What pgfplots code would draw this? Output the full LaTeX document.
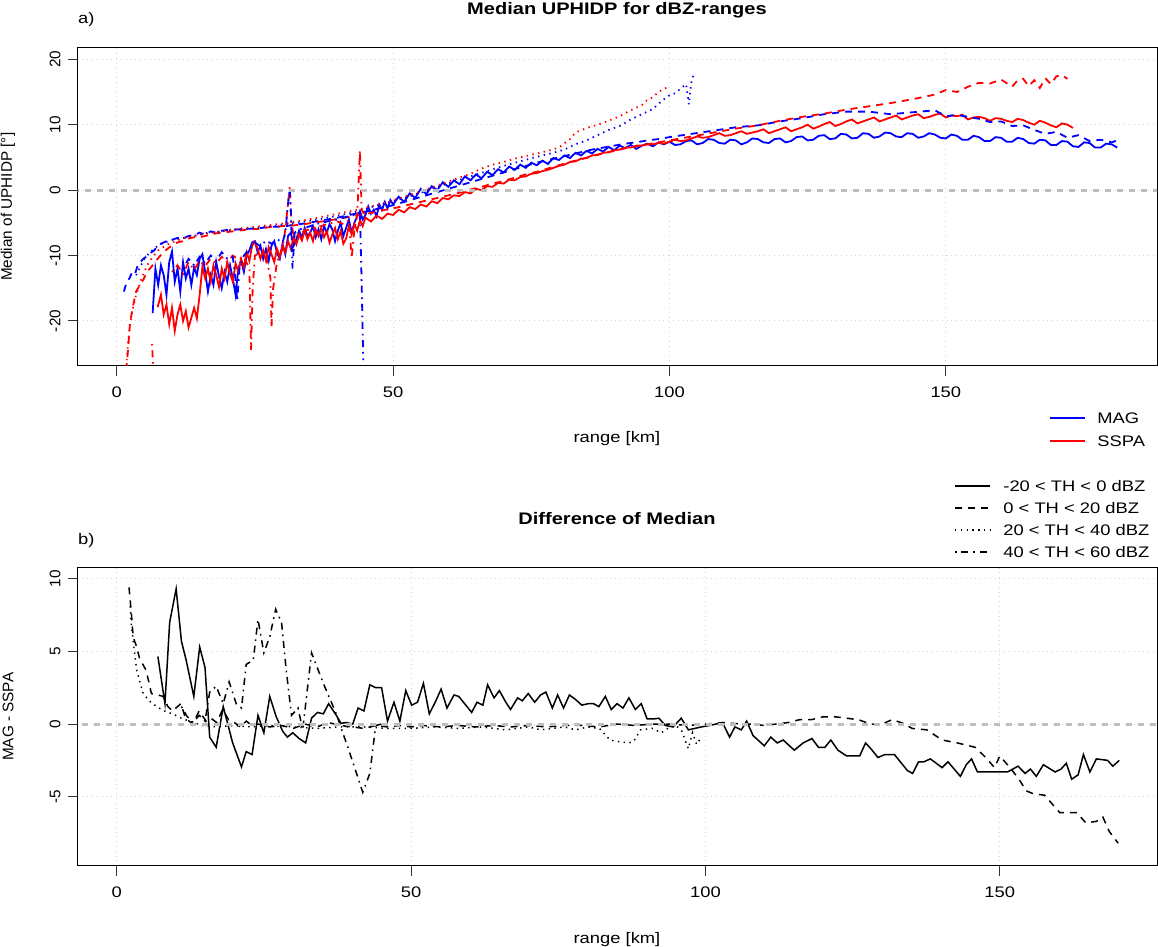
\documentclass[border=0pt]{standalone}
\usepackage{fontspec}
\setmainfont{Liberation Sans}[FakeStretch=1.2]
\newfontfamily\rotfont{Liberation Sans}
\usepackage{pgfplots}
\pgfplotsset{compat=1.18}
\definecolor{lgray}{RGB}{211,211,211}
\definecolor{zgray}{RGB}{190,190,190}
\tikzset{
  l1/.style={line width=0.9pt},
  l2/.style={line width=0.9pt, dash pattern=on 3.5pt off 3pt},
  l3/.style={line width=0.9pt, dash pattern=on 0.7pt off 2.2pt},
  l4/.style={line width=0.9pt, dash pattern=on 0.8pt off 2.4pt on 3.5pt off 2.4pt},
  b1/.style={black, line width=0.75pt},
  b2/.style={black, line width=0.75pt, dash pattern=on 3.5pt off 3pt},
  b3/.style={black, line width=0.75pt, dash pattern=on 0.7pt off 2.2pt},
  b4/.style={black, line width=0.75pt, dash pattern=on 0.8pt off 2.4pt on 3.5pt off 2.4pt},
  zl/.style={zgray, line width=1.5pt, dash pattern=on 3pt off 3pt},
}
\pgfplotsset{
  rax/.style={
    scale only axis, width=539.65pt,
    axis line style={black, line width=0.5pt},
    tick align=outside, major tick length=5pt,
    tick style={black!80, line width=0.5pt},
    xtick pos=lower, ytick pos=left,
    grid=major, grid style={dotted, lgray, line width=0.5pt},
    xtick={0,50,100,150},
    /pgf/number format/assume math mode=true,
    ticklabel style={font=\fontsize{7.65}{9}\selectfont},
    yticklabel style={rotate=90, anchor=south, font=\rotfont\fontsize{7.65}{9}\selectfont},
    xticklabel style={yshift=-2pt},
    clip=true,
  },
}
\begin{document}
\begin{tikzpicture}[x=1pt,y=1pt]
\useasboundingbox (0,0) rectangle (579,473.5);
% ---------------- top panel ----------------
\begin{axis}[rax, at={(38.85pt,290.5pt)}, anchor=south west, height=159.15pt,
  xmin=-7.06, xmax=188.2, ymin=-26.88, ymax=21.77, ytick={-20,-10,0,10,20}]
% MAG solid
\addplot[blue, l1] coordinates {(6.5,-18.8)(7,-12)(7.5,-14.5)(8,-11.5)(8.5,-13)(9,-16)(9.5,-11)(10,-9.4)(10.5,-14)(11,-12)(11.5,-15.5)(12,-11)(12.5,-13.5)(13,-12)(13.5,-14.5)(14,-11.8)(14.5,-13)(15,-10.5)(15.5,-9.8)(16,-12.5)(16.5,-15.5)(17,-13)(17.5,-14.5)(18,-11)(18.5,-13.2)(19,-15)(19.5,-12.5)(20,-14)(20.5,-11.5)(21,-13.5)(21.5,-16)(22,-12)(22.5,-10.8)(23,-12.5)(23.5,-10)(24,-9.2)(24.5,-8)(25,-7.8)(25.5,-9.5)(26,-8.5)(26.5,-10.5)(27,-9)(27.5,-10.8)(28,-8.5)(28.5,-7.8)(29,-9.6)(29.5,-10.5)(30,-8.2)(30.5,-9.8)(31,-7)(31.5,-6.5)(32,-8.5)(32.5,-7.5)(33,-6.2)(33.5,-7.3)(34,-5.8)(34.5,-7)(35,-6.5)(35.5,-5.5)(36,-7.2)(36.5,-6)(37,-7.5)(37.5,-5.5)(38,-6.5)(38.5,-5.2)(39,-6)(39.5,-7.8)(40,-6.2)(40.5,-5)(41,-7)(41.5,-5.8)(42,-4.5)(42.5,-6.5)(43,-5)(43.5,-4)(44,-3.2)(44.5,-4.5)(45,-3.8)(45.5,-2.5)(46,-3.6)(46.5,-3)(47,-4)(47.5,-2.2)(48,-3)(48.5,-1.8)(49,-2.8)(49.5,-1.5)(50,-2.2)(51,-1)(52,-1.8)(53,-0.5)(54,-1.2)(55,0.2)(56,-0.6)(57,0.6)(58,0)(59,1.2)(60,0.5)(61,1.5)(62,0.9)(63,2.1)(64,1.5)(65,2.4)(66,1.8)(67,2.8)(68,2.3)(69,3.2)(70,2.7)(71,3.6)(72,3.1)(73,3.9)(74,3.4)(75,4.2)(76,3.8)(77,4.5)(78,4.0)(79,4.9)(80,4.6)(81,5.3)(82,4.9)(83,5.7)(84,5.3)(85,6.0)(86,5.6)(87,6.3)(88,5.9)(89,6.6)(90,6.1)(91,6.8)(92,6.4)(93,6.9)(94,6.3)(95,6.8)(96,7.1)(97,6.7)(98,7.3)(99,7.0)(100,7.4)(101,6.9)(102,7.0)(103,7.5)(104,7.6)(105,7.0)(106,7.2)(107,7.8)(108,7.7)(109,7.2)(110,7.1)(111,7.7)(112,7.6)(113,7.0)(114,7.3)(115,7.9)(116,7.8)(117,7.3)(118,7.2)(119,7.8)(120,7.9)(121,7.3)(122,7.5)(123,8.1)(124,8.2)(125,7.6)(126,7.7)(127,8.3)(128,8.4)(129,7.8)(130,7.9)(131,8.6)(132,8.5)(133,7.9)(134,8.0)(135,8.7)(136,8.6)(137,8.0)(138,8.2)(139,8.8)(140,8.7)(141,8.2)(142,8.1)(143,8.7)(144,8.6)(145,8.0)(146,8.2)(147,8.7)(148,8.5)(149,8.0)(150,7.9)(151,8.5)(152,8.3)(153,7.7)(154,7.7)(155,8.3)(156,8.1)(157,7.5)(158,7.5)(159,8.1)(160,8.0)(161,7.4)(162,7.4)(163,8.0)(164,7.8)(165,7.2)(166,7.1)(167,7.7)(168,7.6)(169,6.9)(170,6.9)(171,7.5)(172,7.4)(173,6.7)(174,6.6)(175,7.3)(176,7.2)(177,6.5)(178,6.5)(179,7.1)(180,7.0)(181,6.5)};
% SSPA solid
\addplot[red, l1] coordinates {(7.4,-17.9)(8,-16)(8.5,-19)(9,-17.5)(9.5,-20.5)(10,-18)(10.5,-21.5)(11,-19)(11.5,-17.5)(12,-20)(12.5,-18.5)(13,-21)(13.5,-19.5)(14,-18)(14.5,-19.6)(15,-16)(15.5,-11.7)(16,-13.5)(16.5,-12)(17,-14)(17.5,-11.5)(18,-13)(18.5,-14.8)(19,-12)(19.5,-13.5)(20,-11)(20.5,-12.8)(21,-14)(21.5,-11.2)(22,-12.5)(22.5,-10.5)(23,-11.8)(23.5,-9.5)(24,-10.8)(24.5,-8.5)(25,-7.9)(25.5,-9)(26,-10.5)(26.5,-9.2)(27,-10.8)(27.5,-8.7)(28,-9.8)(28.5,-11)(29,-9)(29.5,-10.2)(30,-8.5)(30.5,-9.5)(31,-7.8)(31.5,-9)(32,-7.2)(32.5,-8.3)(33,-6.8)(33.5,-7.7)(34,-6.2)(34.5,-7.5)(35,-6.5)(35.5,-7.8)(36,-6)(36.5,-7)(37,-5.8)(37.5,-7.2)(38,-6.3)(38.5,-8)(39,-6.8)(39.5,-5.8)(40,-7.5)(40.5,-6.3)(41,-8.2)(41.5,-7.4)(42,-5.5)(42.5,-6.8)(43,-5.2)(43.5,-6.2)(44,-4.6)(44.5,-5.5)(45,-4.2)(46,-4.8)(47,-3.9)(48,-4.4)(49,-3.6)(50,-3.8)(51,-3.0)(52,-3.4)(53,-2.6)(54,-2.9)(55,-2.2)(56,-2.5)(57,-1.7)(58,-2.0)(59,-1.2)(60,-1.4)(61,-0.8)(62,-0.9)(63,-0.3)(64,-0.5)(65,0.2)(66,0.0)(67,0.6)(68,0.5)(69,1.1)(70,1.0)(71,1.6)(72,1.5)(73,2.0)(74,2.1)(75,2.5)(76,2.6)(77,2.9)(78,3.1)(79,3.4)(80,3.7)(81,3.9)(82,4.3)(83,4.4)(84,4.8)(85,4.9)(86,5.3)(87,5.4)(88,5.7)(89,5.8)(90,6.1)(91,6.2)(92,6.5)(93,6.5)(94,6.8)(95,6.8)(96,7.0)(97,7.0)(98,7.2)(99,7.1)(100,7.4)(101,7.7)(102,7.5)(103,7.6)(104,7.9)(105,8.2)(106,8.0)(107,8.1)(108,8.4)(109,8.7)(110,8.3)(111,8.4)(112,8.7)(113,9.0)(114,8.6)(115,8.8)(116,9.0)(117,9.3)(118,8.7)(119,9.0)(120,9.3)(121,9.6)(122,9.0)(123,9.3)(124,9.6)(125,10.0)(126,9.4)(127,9.7)(128,10.1)(129,10.4)(130,9.8)(131,10.1)(132,10.5)(133,10.8)(134,10.2)(135,10.5)(136,10.8)(137,11.1)(138,10.5)(139,10.8)(140,11.1)(141,11.4)(142,10.8)(143,11.1)(144,11.4)(145,11.6)(146,11.0)(147,11.2)(148,11.5)(149,11.7)(150,11.1)(151,11.4)(152,11.3)(153,11.5)(154,10.8)(155,11.1)(156,11.2)(157,11.0)(158,10.6)(159,11.0)(160,10.9)(161,10.6)(162,10.4)(163,10.9)(164,10.7)(165,10.3)(166,10.0)(167,10.6)(168,10.3)(169,9.9)(170,9.6)(171,10.2)(172,10.0)(173,9.5)};
% MAG dashed
\addplot[blue, l2] coordinates {(1.3,-15.5)(1.8,-14)(2.3,-13.5)(2.8,-12.5)(3.3,-12.8)(3.8,-11.5)(4.3,-11)(4.8,-10.5)(5.3,-10.2)(5.8,-9.8)(6.3,-9.5)(6.8,-9.2)(7.3,-8.6)(8,-8.2)(9,-7.8)(10,-7.6)(11,-7.3)(12,-7.4)(13,-7.0)(14,-6.9)(15,-6.5)(16,-6.8)(17,-6.3)(18,-6.5)(19,-6.2)(20,-6.1)(22,-6.0)(24,-5.9)(26,-5.8)(28,-5.6)(30,-5.6)(32,-5.3)(34,-5.1)(36,-4.8)(38,-4.5)(40,-4.2)(42,-3.8)(44,-3.5)(46,-3.1)(48,-2.7)(50,-2.3)(52,-1.8)(54,-1.3)(56,-0.8)(58,-0.3)(60,0.2)(62,0.7)(64,1.2)(66,1.7)(68,2.2)(70,2.7)(72,3.2)(74,3.7)(76,4.2)(78,4.6)(80,5.0)(82,5.4)(84,5.8)(86,6.2)(88,6.5)(90,6.8)(92,7.1)(94,7.3)(96,7.6)(98,7.8)(100,8.1)(104,8.6)(108,9.1)(112,9.6)(116,9.9)(120,10.5)(124,11.0)(128,11.6)(132,12.0)(136,12.0)(140,11.6)(144,11.9)(148,12.2)(150,11.3)(152,11.5)(156,10.9)(158,10.4)(160,10.5)(162,9.8)(164,9.9)(166,9.2)(168,8.6)(170,8.9)(172,8.0)(174,8.4)(176,7.5)(178,7.7)(180,7.3)(181,7.6)};
% SSPA dashed
\addplot[red, l2] coordinates {(1.7,-27.5)(2.0,-24.9)(2.4,-20.3)(3,-17.5)(3.5,-15.5)(4.2,-14.5)(4.8,-13.7)(5.5,-12.5)(6.2,-11.8)(7.2,-10.7)(8.4,-9.5)(9.6,-8.7)(11,-8.0)(12,-7.8)(13,-7.4)(14,-7.2)(15.6,-7.1)(17,-6.8)(18,-6.6)(20,-6.4)(22,-6.2)(24,-6.0)(26,-5.9)(28,-5.6)(30,-5.5)(32,-5.4)(34,-5.2)(36,-4.9)(38,-4.7)(40,-4.4)(42,-4.1)(44,-3.8)(46,-3.5)(48,-3.1)(50,-2.8)(52,-2.4)(54,-2.0)(56,-1.6)(58,-1.2)(60,-0.8)(62,-0.4)(64,0.1)(66,0.5)(68,1.0)(70,1.4)(72,1.9)(74,2.4)(76,2.8)(78,3.3)(80,3.8)(82,4.3)(84,4.7)(86,5.2)(88,5.6)(90,6.0)(92,6.4)(94,6.7)(96,7.0)(98,7.3)(100,7.6)(104,8.2)(108,8.8)(112,9.4)(116,9.9)(120,10.6)(124,11.2)(128,11.7)(132,12.3)(136,12.8)(140,13.3)(144,13.9)(148,14.6)(150,15.3)(152,15.0)(154,15.8)(156,16.4)(158,16.3)(160,16.9)(162,15.8)(163,16.8)(164,17.0)(165,15.9)(166,16.8)(167,15.6)(168,17.1)(169,16.2)(170,17.4)(171,17.6)(172,17.0)};
% MAG dotted
\addplot[blue, l3] coordinates {(3.5,-13)(5,-10.5)(6,-9.5)(7,-8.8)(8,-8.2)(10,-7.6)(12,-7.3)(14,-7.0)(16,-6.6)(18,-6.4)(20,-6.2)(22,-6.0)(25,-5.8)(28,-5.5)(31,-5.2)(34,-4.8)(37,-4.4)(40,-3.9)(43,-3.4)(46,-2.6)(49,-1.9)(52,-1.2)(55,-0.4)(58,0.5)(61,1.3)(64,2.1)(67,2.9)(70,3.7)(73,4.4)(76,5.1)(79,5.7)(81,6.2)(83,7.0)(85,7.6)(87,8.4)(89,9.2)(91,9.8)(93,10.8)(95,11.6)(97,12.4)(98.7,13.7)(100,14.5)(101,14.8)(102,15.5)(103,16.2)(103.5,13.1)(104,16.8)(104.5,17.9)};
% SSPA dotted
\addplot[red, l3] coordinates {(1.8,-26)(2.2,-22)(2.8,-18.5)(3.5,-16)(4.5,-13.5)(5.5,-11.5)(6.5,-10.2)(7.5,-9.2)(9,-8.4)(10,-8.0)(12,-7.4)(14,-7.0)(16,-6.7)(18,-6.4)(20,-6.1)(22,-5.9)(25,-5.6)(28,-5.3)(31,-5.0)(34,-4.6)(37,-4.1)(40,-3.6)(43,-3.1)(46,-2.5)(49,-1.8)(52,-1.0)(55,-0.2)(58,0.7)(61,1.6)(64,2.5)(66,3.3)(68,3.9)(70,4.3)(72,4.8)(74,5.2)(76,5.6)(78,6.0)(80,6.5)(82,7.8)(83,8.8)(85,9.5)(87,10.0)(89,10.6)(91,11.3)(93,12.2)(95,13.0)(96,13.8)(97,14.2)(98,15.0)(99,15.5)(100,15.8)};
% SSPA dot-dash
\addplot[red, l4] coordinates {(6.4,-23.5)(6.6,-27.5)};
\addplot[red, l4] coordinates {(10,-12.5)(11,-11.5)(12,-12.8)(13,-11)(14,-12.2)(15,-10.8)(16,-11.6)(17,-10.5)(18,-11.2)(19,-10.2)(20,-11)(21,-10)(22,-10.6)(23,-10.2)(24,-12)(24.3,-24.4)(24.6,-15)(25,-10)(26,-9.5)(27,-10)(27.8,-13.4)(28,-21)(28.3,-15)(29,-11)(30,-9)(30.5,-6)(31,-2)(31.3,0.5)(31.6,-5)(32,-7)(33,-6.8)(34,-6.2)(35,-6)(36,-5.6)(37,-5.5)(38,-5.2)(39,-5.0)(40,-4.8)(41,-5.2)(42,-4.6)(42.5,-10.4)(43,-6)(43.5,-4)(44,6.1)(44.3,-3)(45,-3.8)};
% MAG dot-dash
\addplot[blue, l4] coordinates {(12,-12)(13,-10.5)(14,-11.5)(15,-10.2)(16,-11.2)(17,-10)(18,-10.8)(19,-9.5)(20,-10.5)(21,-10.2)(21.5,-13.7)(21.8,-17)(22.2,-12)(23,-10)(24,-9)(25,-8)(26,-8.6)(27,-7.7)(28,-8.2)(29,-7.5)(30,-8)(30.5,-6.5)(31,-2)(31.3,0.2)(31.5,-3)(31.8,-12)(32.2,-6.5)(33,-6)(34,-5.8)(35,-5.5)(36,-5.2)(37,-5.0)(38,-4.8)(39,-4.6)(40,-4.5)(41,-4.2)(42,-4.0)(43,-3.8)(44,-3.6)(44.3,-13.7)(44.6,-26)};
\addplot[zl] coordinates {(-10,0)(200,0)};
\end{axis}
% ---------------- bottom panel ----------------
\begin{axis}[rax, at={(38.85pt,40.5pt)}, anchor=south west, height=149.15pt,
  xmin=-6.62, xmax=176.7, ymin=-9.77, ymax=10.76, ytick={-5,0,5,10}]
% solid
\addplot[b1] coordinates {(7.0,4.65)(8.2,1.4)(9.0,7.0)(10.1,9.3)(11.0,5.7)(11.8,4.4)(13.1,1.9)(14.1,5.3)(15,3.9)(15.8,-0.9)(16.9,-1.6)(18.1,1.2)(19.7,-1.3)(21.2,-2.95)(22,-1.9)(23,-2.1)(24,0.6)(25,-0.6)(26,1.9)(27.1,0.5)(28.2,-0.5)(29,-0.9)(29.9,-0.6)(31,-1.0)(32.1,-1.3)(33.1,0.4)(34.1,0.8)(35.1,0.7)(36,1.4)(37.3,0.6)(38.1,0.05)(39,0.1)(40.1,0)(41,1.1)(42,0.9)(43,2.7)(44,2.5)(45,2.5)(46,0.2)(47.1,1.5)(48.1,0.2)(49.1,2.3)(50.1,1.3)(51.1,1.5)(52.1,2.8)(53.1,0.7)(54.1,1.5)(55.1,2.4)(56.1,1.1)(57.3,2.0)(58.1,1.9)(59.3,1.3)(60.3,0.8)(61.2,1.5)(62.2,1.3)(63,2.7)(64.1,1.8)(65,2.3)(66.1,1.5)(66.9,1.0)(68.1,1.8)(68.9,1.6)(69.9,2.1)(71,1.5)(72,2.0)(72.9,2.2)(74,1.1)(74.9,2.0)(75.9,1.1)(76.9,2.0)(77.9,1.7)(79,1.3)(80.1,1.4)(81,1.4)(81.9,1.2)(83,1.9)(84,1.0)(85,1.4)(86,1.1)(87,1.8)(88.1,1.0)(89.1,1.4)(90.1,0.35)(91.2,0.35)(92.1,0.4)(93.2,-0.1)(94.5,-0.2)(95.9,0.4)(97.1,-0.4)(99.3,-0.2)(100.7,-0.1)(101.8,0)(102.9,0.1)(104.1,-0.9)(105,-0.2)(106.1,-0.4)(107,0.2)(108.1,-0.8)(110,-1.5)(111.1,-0.9)(112.2,-1.3)(113.2,-1.1)(115.1,-1.8)(116.6,-1.3)(118.1,-1.0)(119.2,-1.6)(120.3,-1.6)(121.3,-1.1)(122.5,-1.8)(124,-2.2)(126.2,-2.2)(127.2,-1.3)(128.1,-1.7)(129.3,-2.3)(130.5,-2.1)(132.1,-2.1)(134.3,-3.2)(135.2,-3.4)(136.2,-2.6)(137.1,-2.6)(138.2,-2.4)(140.2,-3.0)(141.2,-2.6)(143.3,-3.6)(144.3,-2.8)(145.2,-2.4)(146.2,-3.3)(148.3,-3.3)(151.3,-3.3)(153.1,-2.9)(154.3,-3.4)(155.2,-3.1)(156.2,-3.6)(157.4,-2.8)(159.4,-3.3)(160.4,-3.1)(161.3,-2.7)(162.2,-3.8)(163.3,-3.5)(164.2,-2.1)(165.3,-3.3)(166.4,-2.4)(168.3,-2.5)(169.2,-2.9)(170.3,-2.5)};
% dashed
\addplot[b2] coordinates {(2.1,9.4)(2.5,7.6)(2.8,6.0)(3.4,5.3)(3.9,4.5)(5.0,3.7)(5.9,2.1)(7.0,2.0)(7.9,1.9)(8.7,1.2)(9.5,0.9)(10.9,1.4)(11.7,0.4)(12.9,0.0)(14.0,0.9)(15.2,0.2)(16,0.4)(17,0.1)(18,1.0)(19,0.3)(20,0.1)(21,-0.2)(22,0.2)(23,-0.1)(24,0.0)(26,-0.2)(28,-0.1)(30,-0.3)(32,0.0)(34,-0.2)(36,0.1)(38,-0.1)(40,-0.2)(42,-0.3)(44,-0.1)(46,-0.2)(48,-0.1)(50,-0.2)(52,-0.1)(55,-0.2)(58,-0.1)(61,-0.2)(64,-0.1)(67,-0.2)(70,-0.1)(73,-0.2)(76,-0.1)(79,-0.1)(82,-0.2)(85,0.0)(88,-0.1)(91,0.0)(94,0.0)(97,-0.1)(100,0.0)(103,0.1)(106,0.0)(108,0.0)(110,-0.1)(112,0.0)(114,0.1)(116,0.3)(118,0.3)(120,0.5)(122,0.5)(124,0.4)(126,0.3)(128,0.0)(130,0.0)(131.7,0.3)(133.6,0.05)(135.1,-0.3)(137.6,-0.4)(140.2,-1.1)(142.8,-1.3)(145.8,-1.6)(147.6,-2.3)(149.1,-3.0)(150.0,-2.2)(151.3,-2.8)(153.1,-3.7)(154.5,-4.6)(155.7,-4.8)(157.6,-4.9)(160.2,-6.1)(163.1,-6.1)(164.6,-6.8)(166.4,-6.7)(167.5,-6.4)(168.6,-7.4)(170.1,-8.2)};
% dotted
\addplot[b3] coordinates {(2.3,8.1)(2.5,6.8)(3.0,5.0)(3.4,3.7)(4.0,2.8)(4.5,2.1)(5.5,1.6)(6.8,1.2)(8,0.9)(9.5,0.7)(11,0.4)(12.3,0.2)(14.6,-0.1)(17,-0.2)(20,-0.1)(23,-0.2)(26,-0.1)(30,-0.2)(34,-0.3)(38,-0.2)(42,-0.2)(46,-0.3)(50,-0.3)(54,-0.2)(58,-0.3)(62,-0.2)(66,-0.4)(68,-0.3)(70,-0.2)(72,-0.4)(74,-0.3)(76,-0.2)(78,-0.4)(80,-0.2)(82,-0.3)(83.8,-1.1)(85,-1.2)(87,-1.3)(87.8,-1.2)(89,-0.4)(91,-0.3)(92.5,-0.6)(94,-0.2)(95,-0.1)(96,-0.5)(97.1,-1.7)(97.8,-0.6)(98.5,-1.4)(99,-1.1)};
% dot-dash
\addplot[b4] coordinates {(11,1.2)(12,0.5)(13,0.1)(14,0.6)(15,0.2)(15.8,2.2)(16.9,2.6)(18.1,1.4)(19.1,2.9)(20.3,1.4)(21.2,1.1)(22,4.1)(23.2,4.4)(24,7.2)(25,4.9)(26,6.0)(27,7.9)(28,7.0)(28.8,3.7)(29.7,0.6)(30.8,1.1)(31.6,-0.4)(33.1,4.9)(35.1,2.8)(37.3,0.7)(39.6,-2.0)(41.8,-4.7)(43,-3.4)(44,-0.1)(45,0.0)};
\addplot[zl] coordinates {(-10,0)(200,0)};
\end{axis}
% ---------------- text ----------------
\def\tf{\fontsize{7.65}{9}\selectfont}
\node[anchor=base west, inner sep=0pt] at (38.85,461.85) {\tf a)};
\node[anchor=base, inner sep=0pt] at (308.5,466) {\fontsize{8.35}{10}\selectfont\bfseries Median UPHIDP for dBZ-ranges};
\node[anchor=base, inner sep=0pt] at (308.5,252.25) {\tf range [km]};
\node[rotate=90, anchor=center, inner sep=0pt] at (4,370.1) {\rotfont\fontsize{7.65}{9}\selectfont Median of UPHIDP [°]};
\node[anchor=base west, inner sep=0pt] at (38.85,201) {\tf b)};
\node[anchor=base, inner sep=0pt] at (308.5,211) {\fontsize{8.35}{10}\selectfont\bfseries Difference of Median};
\node[anchor=base, inner sep=0pt] at (308.5,1.75) {\tf range [km]};
\node[rotate=90, anchor=center, inner sep=0pt] at (4,115.1) {\rotfont\fontsize{7.65}{9}\selectfont MAG - SSPA};
% legend 1
\draw[blue, line width=1.4pt] (525,264.5) -- (542.5,264.5);
\draw[red, line width=1.4pt] (525,253) -- (542.5,253);
\node[anchor=west, inner sep=0pt] at (548.5,264.5) {\tf MAG};
\node[anchor=west, inner sep=0pt] at (548.5,253) {\tf SSPA};
% legend 2
\draw[b1] (477.5,230.5) -- (495,230.5);
\draw[b2] (477.5,219.5) -- (495,219.5);
\draw[b3] (477.5,208.5) -- (495,208.5);
\draw[b4] (477.5,197.5) -- (495,197.5);
\node[anchor=west, inner sep=0pt] at (501.5,230.5) {\tf -20 < TH < 0 dBZ};
\node[anchor=west, inner sep=0pt] at (501.5,219.5) {\tf 0 < TH < 20 dBZ};
\node[anchor=west, inner sep=0pt] at (501.5,208.5) {\tf 20 < TH < 40 dBZ};
\node[anchor=west, inner sep=0pt] at (501.5,197.5) {\tf 40 < TH < 60 dBZ};
\end{tikzpicture}
\end{document}
